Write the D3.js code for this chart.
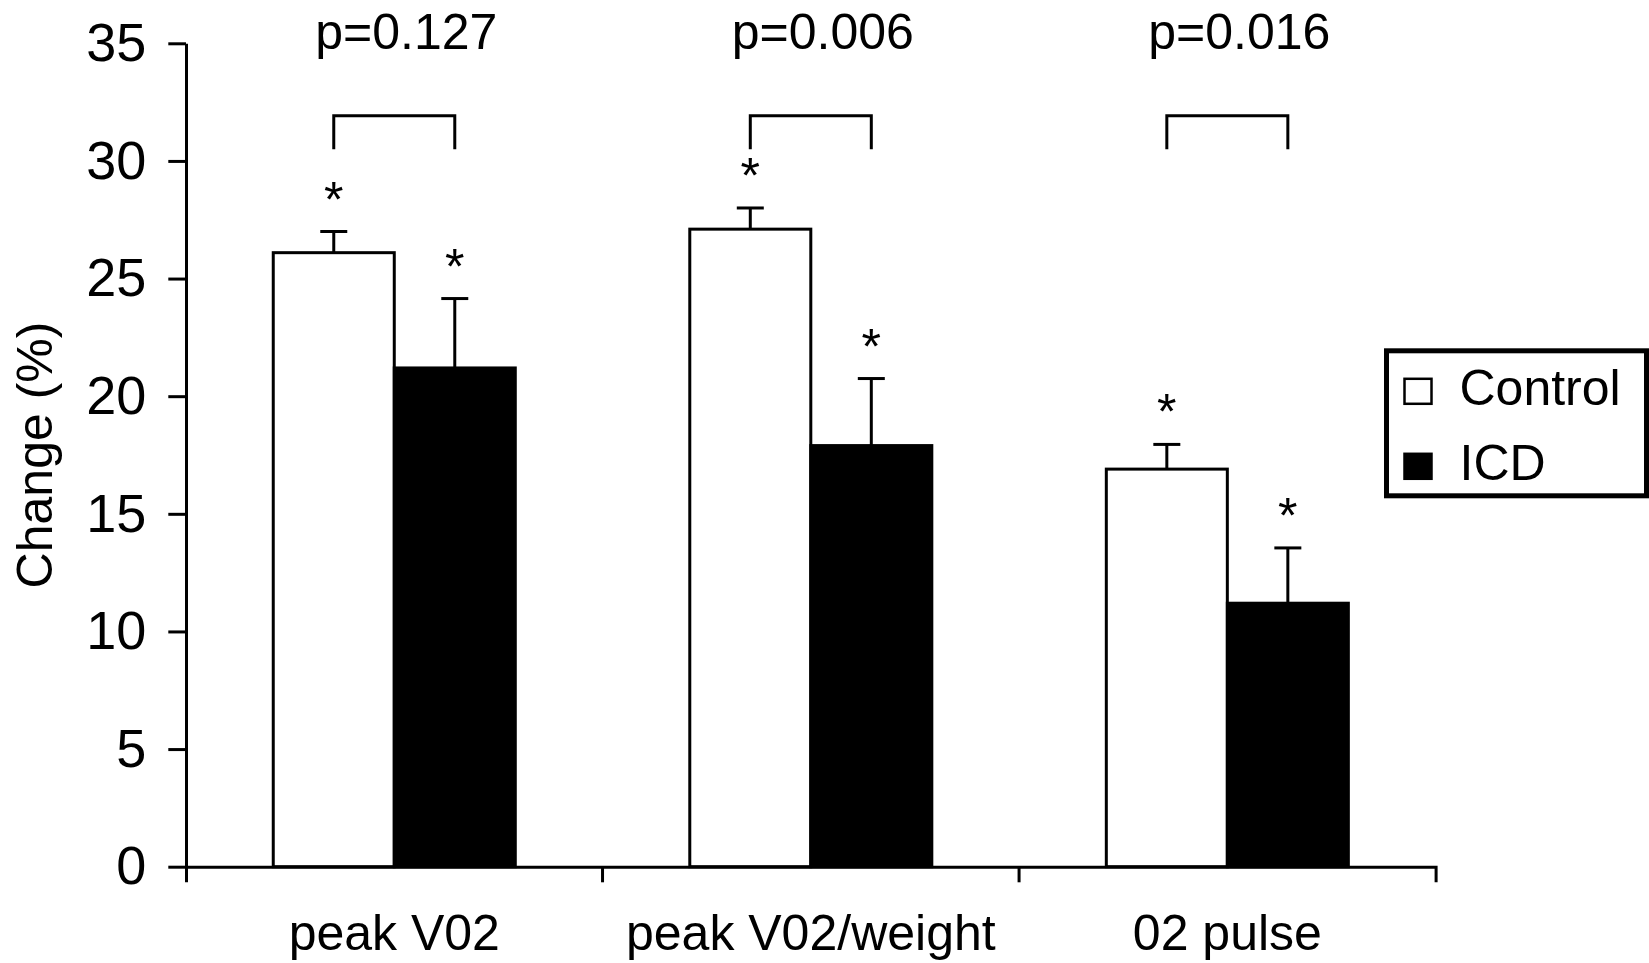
<!DOCTYPE html>
<html>
<head>
<meta charset="utf-8">
<script src="https://cdn.jsdelivr.net/npm/d3@7"></script>
<style>
  body { margin: 0; background: #fff; }
  svg text { font-family: "Liberation Sans", Arial, Helvetica, sans-serif; fill: #000; }
</style>
</head>
<body>
<div id="chart"></div>
<script>
/* data */
const categories = ["peak V02", "peak V02/weight", "02 pulse"];
const groups = ["Control", "ICD"];
const controlMeans = [26.1, 27.1, 16.9];
const controlErrors = [0.9, 0.9, 1.05];
const icdMeans = [21.2, 17.9, 11.2];
const icdErrors = [2.95, 2.85, 2.35];
const pValues = ["p=0.127", "p=0.006", "p=0.016"];
const yTicks = [0, 5, 10, 15, 20, 25, 30, 35];

const rows = categories.flatMap((cat, i) => [
  { cat: cat, group: "Control", mean: controlMeans[i], err: controlErrors[i] },
  { cat: cat, group: "ICD", mean: icdMeans[i], err: icdErrors[i] }
]);

/* svg setup */
const width = 1649;
const height = 963;
const plot = { left: 186, right: 1435.6, top: 43.3, bottom: 866.7 };
const fontSize = 50;

const svg = d3
  .select("#chart")
  .append("svg")
  .attr("width", width)
  .attr("height", height);

svg.append("rect").attr("width", width).attr("height", height).attr("fill", "#fff");

const y = d3.scaleLinear().domain([0, 35]).range([plot.bottom, plot.top]);

const x0 = d3
  .scaleBand()
  .domain(categories)
  .range([plot.left, plot.right])
  .padding(0);

const x1 = d3
  .scaleBand()
  .domain(groups)
  .range([0, x0.bandwidth()])
  .paddingInner(0)
  .paddingOuter(0.721);

const fill = d3.scaleOrdinal().domain(groups).range(["#fff", "#000"]);
const barX = (d) => x0(d.cat) + x1(d.group);
const barMid = (d) => barX(d) + x1.bandwidth() / 2;

/* bars */
svg
  .append("g")
  .selectAll("rect")
  .data(rows)
  .enter()
  .append("rect")
  .attr("x", barX)
  .attr("y", (d) => y(d.mean))
  .attr("width", x1.bandwidth())
  .attr("height", (d) => y(0) - y(d.mean))
  .attr("fill", (d) => fill(d.group))
  .attr("stroke", "#000")
  .attr("stroke-width", 3);

/* error bars (upper only) */
const capHalf = 13.5;
const errG = svg.append("g").attr("stroke", "#000").attr("stroke-width", 3);
errG
  .selectAll("line.stem")
  .data(rows)
  .enter()
  .append("line")
  .attr("class", "stem")
  .attr("x1", barMid)
  .attr("x2", barMid)
  .attr("y1", (d) => y(d.mean))
  .attr("y2", (d) => y(d.mean + d.err));
errG
  .selectAll("line.cap")
  .data(rows)
  .enter()
  .append("line")
  .attr("class", "cap")
  .attr("x1", (d) => barMid(d) - capHalf)
  .attr("x2", (d) => barMid(d) + capHalf)
  .attr("y1", (d) => y(d.mean + d.err))
  .attr("y2", (d) => y(d.mean + d.err));

/* asterisks */
svg
  .append("g")
  .selectAll("text")
  .data(rows)
  .enter()
  .append("text")
  .attr("x", barMid)
  .attr("y", (d) => y(d.mean + d.err) - 15)
  .attr("text-anchor", "middle")
  .attr("font-size", fontSize)
  .text("*");

/* comparison brackets + p values */
const bracketTop = 31.92;
const bracketLeg = 30.5;
const bracketG = svg.append("g");
categories.forEach((cat, i) => {
  const xa = x0(cat) + x1("Control") + x1.bandwidth() / 2;
  const xb = x0(cat) + x1("ICD") + x1.bandwidth() / 2;
  bracketG
    .append("path")
    .attr("d", `M${xa},${y(bracketLeg)}V${y(bracketTop)}H${xb}V${y(bracketLeg)}`)
    .attr("fill", "none")
    .attr("stroke", "#000")
    .attr("stroke-width", 3);
  bracketG
    .append("text")
    .attr("x", x0(cat) + x0.bandwidth() / 2 + 12)
    .attr("y", y(35) + 6)
    .attr("text-anchor", "middle")
    .attr("font-size", fontSize)
    .text(pValues[i]);
});

/* y axis */
svg
  .append("g")
  .attr("transform", `translate(${plot.left},0)`)
  .call(d3.axisLeft(y).tickValues(yTicks).tickSize(17.7).tickPadding(22).tickSizeOuter(0))
  .call((g) => g.attr("font-family", null).attr("font-size", 54))
  .call((g) => g.selectAll("path, line").attr("stroke", "#000").attr("stroke-width", 3));

/* x axis */
const xAxisG = svg
  .append("g")
  .attr("transform", `translate(0,${plot.bottom})`)
  .call(d3.axisBottom(x0).tickSize(0).tickPadding(47.8).tickSizeOuter(15.6))
  .call((g) => g.attr("font-family", null).attr("font-size", fontSize))
  .call((g) => g.select(".domain").attr("stroke", "#000").attr("stroke-width", 3));

/* group divider ticks */
xAxisG
  .selectAll("line.divider")
  .data(categories.slice(1))
  .enter()
  .append("line")
  .attr("class", "divider")
  .attr("x1", (d) => x0(d))
  .attr("x2", (d) => x0(d))
  .attr("y1", 0)
  .attr("y2", 15.6)
  .attr("stroke", "#000")
  .attr("stroke-width", 3);

/* y title */
svg
  .append("text")
  .attr("transform", `translate(52,${(plot.top + plot.bottom) / 2}) rotate(-90)`)
  .attr("text-anchor", "middle")
  .attr("font-size", fontSize)
  .text("Change (%)");

/* legend */
const legend = svg.append("g").attr("transform", "translate(1386.5,350.8)");
legend
  .append("rect")
  .attr("width", 260)
  .attr("height", 145)
  .attr("fill", "#fff")
  .attr("stroke", "#000")
  .attr("stroke-width", 5);
groups.forEach((grp, i) => {
  const item = legend.append("g").attr("transform", `translate(18,${28 + i * 75})`);
  item
    .append("rect")
    .attr("width", 27)
    .attr("height", 25)
    .attr("fill", fill(grp))
    .attr("stroke", "#000")
    .attr("stroke-width", 2.5);
  item
    .append("text")
    .attr("x", 55)
    .attr("y", 26)
    .attr("font-size", fontSize)
    .text(grp);
});
</script>
</body>
</html>
